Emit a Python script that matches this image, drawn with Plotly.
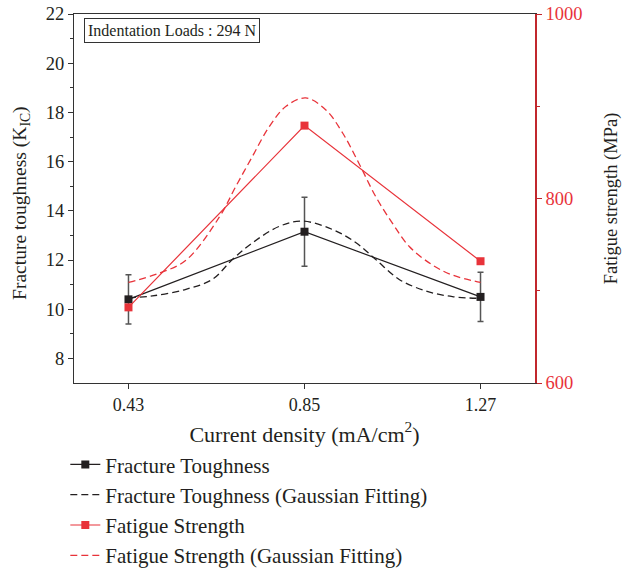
import plotly.graph_objects as go

# Data
current_density = [0.43, 0.85, 1.27]
fracture_toughness = [10.40, 13.15, 10.50]
fracture_err = [1.0, 1.4, 1.0]
fatigue_strength = [682, 879, 732]

ft_fit_x = [0.43, 0.487, 0.567, 0.630, 0.678, 0.726, 0.790, 0.845, 0.917, 0.973,
            1.020, 1.076, 1.140, 1.203, 1.27]
ft_fit_y = [10.47, 10.54, 10.81, 11.21, 12.02, 12.70, 13.37, 13.58, 13.24, 12.70,
            12.02, 11.21, 10.74, 10.51, 10.44]

fs_fit_x = [0.43, 0.503, 0.567, 0.647, 0.686, 0.725, 0.766, 0.806, 0.853, 0.901,
            0.941, 0.980, 1.020, 1.060, 1.100, 1.155, 1.203, 1.27]
fs_fit_y = [709, 719, 733, 780, 813, 845, 878, 900, 909, 896,
            871, 838, 802, 773, 748, 728, 717, 709]

x_ticks = [0.43, 0.85, 1.27]
x_ticklabels = ["0.43", "0.85", "1.27"]

BLACK = "#231f20"
RED = "#e8333a"
RED_AXIS = "#c1272d"
TEXT = "#231f20"
FONT = "Liberation Serif"

fig = go.Figure()

fig.add_trace(go.Scatter(
    x=current_density, y=fracture_toughness, name="Fracture Toughness",
    mode="lines+markers", line=dict(color=BLACK, width=1.2),
    marker=dict(symbol="square", size=8, color=BLACK),
    error_y=dict(type="data", array=fracture_err, color="#555555", thickness=1.5, width=3),
    legendgroup="a", yaxis="y"))

fig.add_trace(go.Scatter(
    x=ft_fit_x, y=ft_fit_y, name="Fracture Toughness (Gaussian Fitting)",
    mode="lines", line=dict(color=BLACK, width=1.3, dash="7px,4px", shape="spline"),
    legendgroup="b", yaxis="y"))

fig.add_trace(go.Scatter(
    x=current_density, y=fatigue_strength, name="Fatigue Strength",
    mode="lines+markers", line=dict(color=RED, width=1.2),
    marker=dict(symbol="square", size=8, color=RED),
    legendgroup="c", yaxis="y2"))

fig.add_trace(go.Scatter(
    x=fs_fit_x, y=fs_fit_y, name="Fatigue Strength (Gaussian Fitting)",
    mode="lines", line=dict(color=RED, width=1.3, dash="7px,4px", shape="spline"),
    legendgroup="d", yaxis="y2"))

fig.update_layout(
    width=622, height=571,
    margin=dict(l=74, r=87, t=14, b=188, autoexpand=False),
    paper_bgcolor="white", plot_bgcolor="white",
    font=dict(family=FONT, size=18, color=TEXT),
    showlegend=True,
    legend=dict(x=0.105, y=0.222, xref="container", yref="container",
                xanchor="left", yanchor="top",
                font=dict(family=FONT, size=21, color=TEXT),
                tracegroupgap=0, bgcolor="rgba(0,0,0,0)"),
    xaxis=dict(range=[0.3, 1.4], tickvals=x_ticks, ticktext=x_ticklabels,
               showline=True, linecolor="#333333", linewidth=1.3, mirror=True,
               ticks="outside", ticklen=5, tickcolor="#333333", showgrid=False, zeroline=False,
               title=dict(text="Current density (mA/cm<sup>2</sup>)", standoff=12),
               tickfont=dict(size=18)),
    yaxis=dict(range=[7, 22], tickvals=[8, 10, 12, 14, 16, 18, 20, 22],
               showline=True, linecolor="#333333", linewidth=1.3, automargin=False,
               ticks="outside", ticklen=5, tickcolor="#333333", showgrid=False, zeroline=False,
               minor=dict(tickvals=[9, 11, 13, 15, 17, 19, 21], ticks="outside", ticklen=3,
                          tickcolor="#333333", showgrid=False),
               tickfont=dict(size=18.5)),
    yaxis2=dict(range=[600, 1000], tickvals=[600, 800, 1000], overlaying="y", side="right",
                showline=True, linecolor=RED_AXIS, linewidth=1.5, automargin=False,
                ticks="outside", ticklen=5, tickcolor=RED_AXIS, showgrid=False, zeroline=False,
                minor=dict(tickvals=[700, 900], ticks="outside", ticklen=3,
                           tickcolor=RED_AXIS, showgrid=False),
                tickfont=dict(size=18.5, color=RED),
                title=dict(text="Fatigue strength (MPa)", standoff=25,
                           font=dict(color=TEXT, size=18.5))),
)

# Left y-axis title
fig.add_annotation(
    x=-0.115, y=0.488, xref="paper", yref="paper", xanchor="center", yanchor="middle",
    text="Fracture toughness (K<sub>IC</sub>)", textangle=-90, showarrow=False,
    font=dict(family=FONT, size=19.5, color=TEXT))

fig.add_annotation(
    x=0.022, y=0.99, xref="paper", yref="paper", xanchor="left", yanchor="top",
    text="Indentation Loads : 294 N", showarrow=False,
    font=dict(family=FONT, size=16, color=TEXT),
    bordercolor="#333333", borderwidth=1, borderpad=3, bgcolor="white")

fig.write_html("out.html")
